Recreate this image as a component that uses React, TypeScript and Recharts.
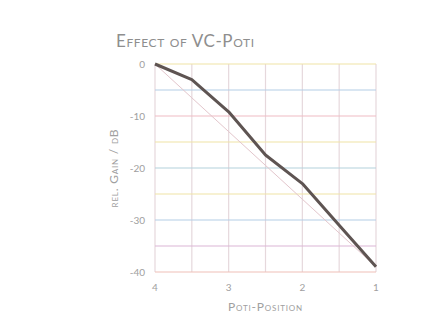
import React from 'react';
import { LineChart, Line, XAxis, YAxis, ReferenceLine, Label } from 'recharts';

// poti position vs relative gain (dB)
const positions = [4, 3.5, 3, 2.5, 2, 1.5, 1];
const measured = [0, -3, -9.2, -17.5, -23, -31, -39];
const ideal = [0, -6.5, -13, -19.5, -26, -32.5, -39];

const xTicks = [4, 3, 2, 1];
const yTicks = [0, -10, -20, -30, -40];
const gridLevels = [0, -5, -10, -15, -20, -25, -30, -35, -40];
const gridColors = ['#efe3a6', '#b4cde6', '#efbcc4', '#efe3a6', '#b4d2dc', '#efe3a6', '#b4cde6', '#dcb6d6', '#efc0b8'];

const data = positions.map((p, i) => ({ pos: p, measured: measured[i], ideal: ideal[i] }));

const tickStyle = { fill: '#a0a0a0', fontSize: 10, fontFamily: 'Lato' };
const labelStyle = { fontVariant: 'small-caps', letterSpacing: 0.8 };

const App: React.FC = () => {
  return (
    <div style={{ position: 'absolute', left: 0, top: 0, background: '#fff' }}>
      <LineChart width={445} height={316} data={data} margin={{ top: 64, right: 69, bottom: 24, left: 120 }}>
        <text x={116} y={47} fill="#8e8e8e" fontFamily="Lato" fontSize={17} letterSpacing={0.6} style={{ fontVariant: 'small-caps' }}>
          Effect of VC-Poti
        </text>
        <XAxis
          dataKey="pos"
          type="number"
          domain={[1, 4]}
          reversed
          ticks={xTicks}
          axisLine={false}
          tickLine={false}
          height={20}
          tick={tickStyle}
          tickMargin={6}
        >
          <Label value="Poti-Position" position="bottom" offset={10} fill="#a0a0a0" fontSize={12} fontFamily="Lato" style={labelStyle} />
        </XAxis>
        <YAxis
          type="number"
          domain={[-40, 0]}
          ticks={yTicks}
          axisLine={false}
          tickLine={false}
          width={35}
          tick={tickStyle}
          tickMargin={4}
        >
          <Label value="rel. Gain / dB" angle={-90} position="insideLeft" offset={-6} fill="#a0a0a0" fontSize={12} fontFamily="Lato" style={{ ...labelStyle, textAnchor: 'middle' }} />
        </YAxis>
        {positions.map((p) => (
          <ReferenceLine key={`v${p}`} x={p} stroke="#e6d8dc" strokeWidth={1.2} />
        ))}
        {gridLevels.map((g, i) => (
          <ReferenceLine key={`h${g}`} y={g} stroke={gridColors[i]} strokeWidth={1.2} />
        ))}
        <Line dataKey="ideal" stroke="#e3c6cc" strokeWidth={1} dot={false} isAnimationActive={false} />
        <Line dataKey="measured" stroke="#5e5452" strokeWidth={3} strokeLinejoin="round" dot={false} isAnimationActive={false} />
      </LineChart>
    </div>
  );
};

export default App;
